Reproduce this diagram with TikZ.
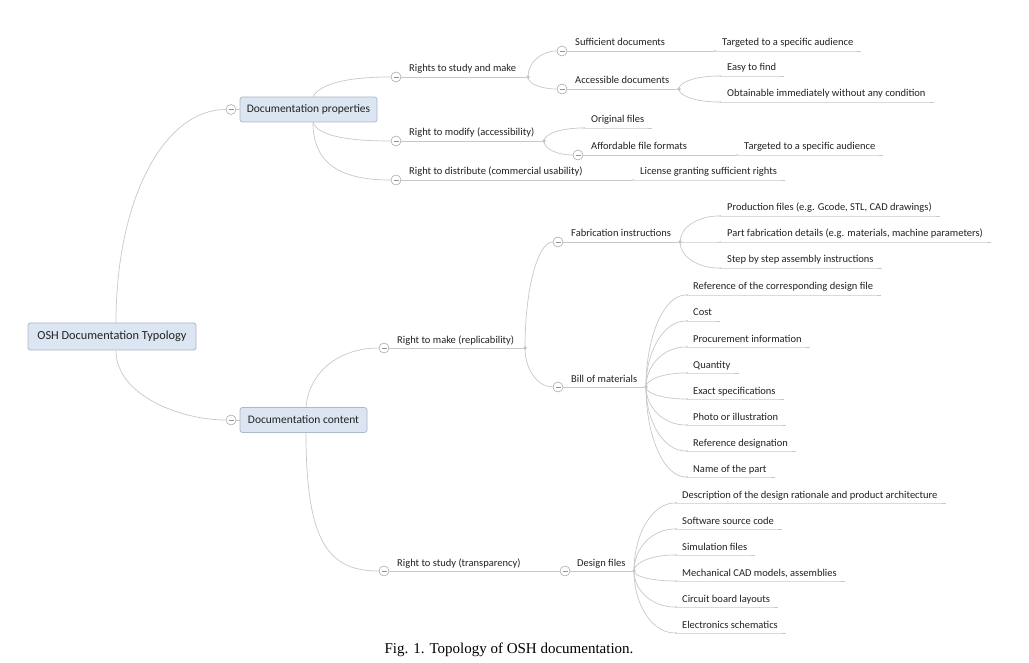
\documentclass[tikz,border=0pt]{standalone}
\usepackage{fontspec}
\setmainfont{Carlito}
\newfontfamily\capfont{Liberation Serif}
\usepackage{tikz}
\usetikzlibrary{calc}
\definecolor{topicfill}{HTML}{DCE6F2}
\definecolor{topicline}{HTML}{AEB8C6}
\definecolor{branch}{HTML}{C8C8C8}
\definecolor{ink}{HTML}{222222}
\newcommand\branchto[2]{%
  \draw[link] let \p1=(#1.center),\p2=(#2.west) in
    (\p1) .. controls (\x1,{\y1+0.55*(\y2-\y1)}) and ({\x2-0.55*(\x2-\x1)},\y2) .. (\p2);}

\begin{document}
\begin{tikzpicture}[x=1pt,y=-1pt,
  topic/.style={draw=topicline,fill=topicfill,rounded corners=2.5pt,line width=0.8pt,
    text=ink,inner sep=0pt,font=\fontsize{11.5}{13}\selectfont},
  lbl/.style={anchor=base west,inner sep=0pt,yshift=-1pt,text=ink,font=\fontsize{10.5}{12}\selectfont},
  fold/.style={circle,draw=gray!70,fill=white,line width=0.55pt,minimum size=10pt,inner sep=0pt,
    path picture={\draw[gray!85,line width=0.7pt]
      ([xshift=-2.5pt]path picture bounding box.center) -- ([xshift=2.5pt]path picture bounding box.center);}},
  hub/.style={circle,fill=gray!50,minimum size=3.6pt,inner sep=0pt},
  leafdot/.style={circle,fill=gray!45,minimum size=2pt,inner sep=0pt},
  link/.style={draw=branch,line width=0.7pt}]
  \fill[white] (0,0) rectangle (1029,663);
  \useasboundingbox (0,0) rectangle (1029,663);

  \node[topic,minimum width=168pt,minimum height=27pt,font=\fontsize{12.3}{14}\selectfont]
    (root) at (112,336.5) {OSH Documentation Typology};
  \node[fold] (fprop) at (231,109.5) {};
  \node[topic,minimum width=137pt,minimum height=25pt] (dprop) at (308.5,109.5) {Documentation properties};
  \node[fold] (fcont) at (231,420) {};
  \node[topic,minimum width=127pt,minimum height=25pt] (dcont) at (303.5,420) {Documentation content};
  \draw[link] ([xshift=4pt]root.north) .. controls +(0,-123) and +(-62,0) .. (fprop.west);
  \draw[link] ([xshift=4pt]root.south) .. controls +(0,45) and +(-45,0) .. (fcont.west);
  \draw[link] (fprop) -- (dprop);
  \draw[link] (fcont) -- (dcont);

  % documentation properties
  \node[fold] (frs) at (396,77) {};
  \node[lbl] (trs) at (409,71) {Rights to study and make};
  \node[hub] (jrs) at (528,77) {};
  \node[fold] (frm) at (396,141) {};
  \node[lbl] (trm) at (409,135) {Right to modify (accessibility)};
  \node[hub] (jrm) at (544,141) {};
  \node[fold] (frd) at (396,180) {};
  \node[lbl] (trd) at (409,174) {Right to distribute (commercial usability)};
  \draw[link] ([xshift=4.5pt]dprop.north) .. controls +(8,-14) and +(-40,0) .. (frs.west);
  \draw[link] ([xshift=4.5pt]dprop.south) .. controls +(5,13) and +(-45,0) .. (frm.west);
  \draw[link] ([xshift=4.5pt]dprop.south) .. controls +(0,45) and +(-45,0) .. (frd.west);
  \draw[link] (frs) -- (jrs);
  \draw[link] (frm) -- (jrm);

  \node[fold] (fsd) at (562,51) {};
  \node[lbl] (tsd) at (575,45) {Sufficient documents};
  \node[fold] (fad) at (562,89) {};
  \node[lbl] (tad) at (575,83) {Accessible documents};
  \node[hub] (jad) at (679,89) {};
  \branchto{jrs}{fsd}
  \branchto{jrs}{fad}
  \draw[link] (fad) -- (jad);
  \node[leafdot] (aud1) at (715,51) {};
  \node[lbl] (aud1t) at (722,45) {Targeted to a specific audience};
  \draw[link] (fsd) -- (aud1) -- (aud1 -| aud1t.east) -- ++(8,0);
  \foreach \k/\y/\txt in {1/76/Easy to find,2/102/Obtainable immediately without any condition}{
    \node[leafdot] (acc\k) at (720,\y) {};
    \node[lbl] (acc\k t) at (727,\y-6) {\txt};
    \draw[link] (acc\k) -- (acc\k -| acc\k t.east) -- ++(8,0);
    \branchto{jad}{acc\k}
  }

  \node[leafdot] (orig) at (584,128) {};
  \node[lbl] (origt) at (591,122) {Original files};
  \draw[link] (orig) -- (orig -| origt.east) -- ++(8,0);
  \node[fold] (faf) at (578,155) {};
  \node[lbl] (taf) at (591,149) {Affordable file formats};
  \branchto{jrm}{orig}
  \branchto{jrm}{faf}
  \node[leafdot] (aud2) at (737,155) {};
  \node[lbl] (aud2t) at (744,149) {Targeted to a specific audience};
  \draw[link] (faf) -- (aud2) -- (aud2 -| aud2t.east) -- ++(8,0);

  \node[leafdot] (lic) at (633,180) {};
  \node[lbl] (lict) at (640,174) {License granting sufficient rights};
  \draw[link] (frd) -- (lic) -- (lic -| lict.east) -- ++(8,0);

  % documentation content
  \node[fold] (frmk) at (384,348) {};
  \node[lbl] (trmk) at (397,342) {Right to make (replicability)};
  \node[hub] (jrmk) at (525,348) {};
  \node[fold] (frst) at (384,571) {};
  \node[lbl] (trst) at (397,565) {Right to study (transparency)};
  \draw[link] ([xshift=2.5pt]dcont.north) .. controls +(3,-35) and +(-40,0) .. (frmk.west);
  \draw[link] ([xshift=2.5pt]dcont.south) .. controls +(0,110) and +(-50,0) .. (frst.west);
  \draw[link] (frmk) -- (jrmk);

  \node[fold] (ffi) at (558,242) {};
  \node[lbl] (tfi) at (571,236) {Fabrication instructions};
  \node[hub] (jfi) at (680,242) {};
  \node[fold] (fbom) at (558,387) {};
  \node[lbl] (tbom) at (571,381) {Bill of materials};
  \node[hub] (jbom) at (646,387) {};
  \branchto{jrmk}{ffi}
  \branchto{jrmk}{fbom}
  \draw[link] (ffi) -- (jfi);
  \draw[link] (fbom) -- (jbom);
  \foreach \k/\y/\txt in {1/216/{Production files (e.g. Gcode, STL, CAD drawings)},
                          2/242/{Part fabrication details (e.g. materials, machine parameters)},
                          3/268/Step by step assembly instructions}{
    \node[leafdot] (fab\k) at (720,\y) {};
    \node[lbl] (fab\k t) at (727,\y-6) {\txt};
    \draw[link] (fab\k) -- (fab\k -| fab\k t.east) -- ++(8,0);
    \branchto{jfi}{fab\k}
  }
  \foreach \k/\y/\txt in {1/295/Reference of the corresponding design file,2/321/Cost,
                          3/347/Procurement information,4/373/Quantity,5/399/Exact specifications,
                          6/425/Photo or illustration,7/451/Reference designation,8/477/Name of the part}{
    \node[leafdot] (bom\k) at (687,\y) {};
    \node[lbl] (bom\k t) at (693,\y-6) {\txt};
    \draw[link] (bom\k) -- (bom\k -| bom\k t.east) -- ++(8,0);
    \branchto{jbom}{bom\k}
  }

  \node[fold] (fdf) at (565,571) {};
  \node[lbl] (tdf) at (577,565) {Design files};
  \node[hub] (jdf) at (634,571) {};
  \draw[link] (frst) -- (fdf);
  \draw[link] (fdf) -- (jdf);
  \foreach \k/\y/\txt in {1/503/Description of the design rationale and product architecture,
                          2/529/Software source code,3/555/Simulation files,
                          4/581/{Mechanical CAD models, assemblies},5/607/Circuit board layouts,
                          6/633/Electronics schematics}{
    \node[leafdot] (des\k) at (676,\y) {};
    \node[lbl] (des\k t) at (682,\y-6) {\txt};
    \draw[link] (des\k) -- (des\k -| des\k t.east) -- ++(8,0);
    \branchto{jdf}{des\k}
  }

  \node[font=\capfont\fontsize{15}{17}\selectfont,anchor=base] (cap) at (509,653)
    {Fig. 1. Topology of OSH documentation.};
\end{tikzpicture}
\end{document}
